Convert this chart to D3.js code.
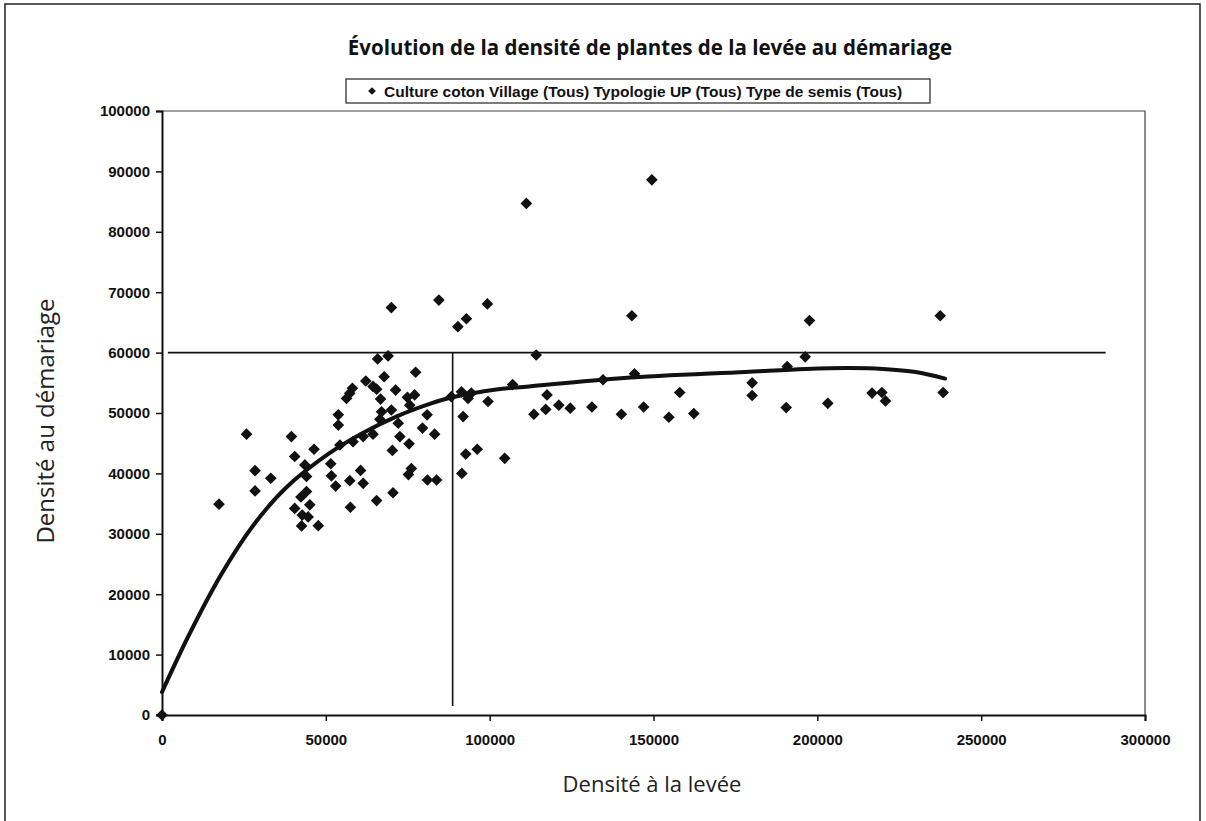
<!DOCTYPE html>
<html>
<head>
<meta charset="utf-8">
<script src="https://cdn.jsdelivr.net/npm/d3@7"></script>
<style>
  body { margin: 0; background: #fff; }
  .tick text { font-family: "Liberation Sans", Arial, sans-serif; font-weight: bold; font-size: 15px; fill: #111; }
</style>
</head>
<body>
<div class="canvas"></div>
<script>
// scatter values: density at emergence (x) / at thinning (y)
const levee = [
  0, 17400, 25800, 28400, 28400, 33200, 39500, 40500, 46400, 43600,
  44100, 44100, 42400, 40500, 45100, 42800, 44600, 42600, 47700, 53800,
  53800, 51500, 51700, 53000, 56300, 70000, 84500, 99300, 90300, 92900,
  65800, 69000, 77400, 62200, 67800, 58100, 57300, 64400, 65500, 71300,
  66700, 74900, 77100, 75600, 67000, 70000, 66500, 72100, 80900, 79500,
  83200, 72600, 75400, 70300, 64400, 61400, 58300, 54300, 91900, 91400,
  94400, 93400, 88300, 99500, 107000, 92700, 96200, 104600, 91500, 76100,
  75200, 60600, 61400, 57300, 57500, 65500, 70500, 81000, 83800, 114200,
  117500, 113500, 117100, 111200, 149500, 143400, 134600, 144200, 121100, 124600,
  131200, 140200, 147000, 154700, 158000, 162300, 197600, 237500, 196300, 190800,
  180100, 180100, 190500, 203200, 216700, 219700, 220800, 238400
];
const demariage = [
  0, 34900, 46500, 40450, 37100, 39200, 46100, 42800, 44000, 41400,
  39500, 37000, 36100, 34200, 34800, 33100, 32800, 31300, 31350, 49700,
  48000, 41600, 39600, 37900, 52400, 67450, 68700, 68060, 64300, 65600,
  58950, 59450, 56750, 55300, 56000, 54100, 53250, 54400, 53950, 53800,
  52300, 52600, 53000, 51300, 50200, 50500, 48950, 48300, 49700, 47500,
  46500, 46100, 44900, 43800, 46500, 46100, 45250, 44700, 49400, 53500,
  53300, 52400, 52700, 51900, 54700, 43200, 44000, 42500, 40000, 40800,
  39800, 40500, 38350, 38800, 34400, 35500, 36800, 38900, 38900, 59600,
  53000, 49800, 50600, 84700, 88600, 66100, 55500, 56500, 51300, 50800,
  51000, 49800, 51000, 49300, 53400, 49900, 65300, 66100, 59300, 57700,
  55000, 52900, 50900, 51600, 53300, 53400, 52000, 53400
];

// trend curve
const trendX = [0, 8000, 18000, 28000, 38000, 51000, 61000, 71500, 81700, 88600, 102000, 112000, 141000, 178000, 196500, 210000, 220000, 230000, 239000];
const trendY = [3800, 13000, 23200, 31500, 37700, 43300, 46600, 49400, 51500, 52600, 53900, 54400, 55800, 56800, 57300, 57450, 57300, 56800, 55700];

// reference lines (threshold at 60000 / 88700)
const hLine = [[1800, 60000], [288000, 60000]];
const vLine = [[88700, 60000], [88700, 1500]];

const xTicks = [0, 50000, 100000, 150000, 200000, 250000, 300000];
const yTicks = [0, 10000, 20000, 30000, 40000, 50000, 60000, 70000, 80000, 90000, 100000];

const titleText = "Évolution de la densité de plantes de la levée au démariage";
const legendText = "Culture coton Village (Tous) Typologie UP (Tous) Type de semis (Tous)";
const xTitle = "Densité à la levée";
const yTitle = "Densité au démariage";

// dimensions
const w = 1206;
const h = 821;
const margin = { top: 111, right: 61, bottom: 106, left: 162 };
const plotW = w - margin.left - margin.right;
const plotH = h - margin.top - margin.bottom;

const svg = d3.select(".canvas").append("svg").attr("width", w).attr("height", h)
  .style("font-family", "'Open Sans', sans-serif");

svg.append("rect").attr("width", w).attr("height", h).attr("fill", "#fff");

// outer frame of the figure
svg.append("rect")
  .attr("x", 5).attr("y", 4).attr("width", 1195).attr("height", 840)
  .attr("fill", "none").attr("stroke", "#222").attr("stroke-width", 1.5);

const x = d3.scaleLinear().domain([0, 300000]).range([0, plotW]);
const y = d3.scaleLinear().domain([0, 100000]).range([plotH, 0]);

const graph = svg.append("g").attr("transform", `translate(${margin.left}, ${margin.top})`);

// plot area border (top and right)
graph.append("path")
  .attr("d", `M0,0H${plotW}V${plotH}`)
  .attr("fill", "none").attr("stroke", "#444").attr("stroke-width", 1.2);

// axes
graph.append("g")
  .attr("transform", `translate(0, ${plotH})`)
  .call(d3.axisBottom(x).tickValues(xTicks).tickFormat(d3.format("d")).tickSize(6).tickPadding(13))
  .call((g) => g.select(".domain").attr("stroke", "#111").attr("stroke-width", 2))
  .call((g) => g.selectAll(".tick line").attr("stroke", "#111").attr("stroke-width", 1.5));

graph.append("g")
  .call(d3.axisLeft(y).tickValues(yTicks).tickFormat(d3.format("d")).tickSize(6).tickPadding(6))
  .call((g) => g.select(".domain").attr("stroke", "#111").attr("stroke-width", 2))
  .call((g) => g.selectAll(".tick line").attr("stroke", "#111").attr("stroke-width", 1.5));

// reference lines
const line = d3.line().x((d) => x(d[0])).y((d) => y(d[1]));
[hLine, vLine].forEach((l) => {
  graph.append("path").attr("d", line(l))
    .attr("fill", "none").attr("stroke", "#111").attr("stroke-width", 1.6);
});

// points
const diamond = d3.symbol(d3.symbolSquare, 68);
graph.selectAll(".pt")
  .data(levee.map((v, i) => [v, demariage[i]]))
  .enter()
  .append("path")
  .attr("class", "pt")
  .attr("d", diamond)
  .attr("transform", (d) => `translate(${x(d[0])}, ${y(d[1])}) rotate(45)`)
  .attr("fill", "#111");

// trend curve
const trendLine = d3.line().curve(d3.curveCatmullRom.alpha(0.5)).x((d) => x(d[0])).y((d) => y(d[1]));
graph.append("path")
  .attr("d", trendLine(trendX.map((v, i) => [v, trendY[i]])))
  .attr("fill", "none").attr("stroke", "#111").attr("stroke-width", 4).attr("stroke-linecap", "round");

// title
svg.append("text")
  .attr("x", 650).attr("y", 55)
  .attr("text-anchor", "middle")
  .attr("font-weight", "bold").attr("font-size", 20.5).attr("fill", "#111")
  .text(titleText);

// legend box
const legend = svg.append("g").attr("transform", "translate(346, 79)");
legend.append("rect").attr("width", 584).attr("height", 24)
  .attr("fill", "#fff").attr("stroke", "#222").attr("stroke-width", 1.2);
legend.append("path").attr("d", d3.symbol(d3.symbolSquare, 30))
  .attr("transform", "translate(26, 12) rotate(45)").attr("fill", "#111");
legend.append("text").attr("x", 38).attr("y", 17.5)
  .style("font-family", "'Liberation Sans', Arial, sans-serif")
  .attr("font-weight", "bold").attr("font-size", 15.5).attr("fill", "#111")
  .text(legendText);

// axis titles
svg.append("text")
  .attr("x", 652).attr("y", 792)
  .attr("text-anchor", "middle").attr("font-size", 22).attr("fill", "#222")
  .text(xTitle);

svg.append("text")
  .attr("transform", "translate(54, 421) rotate(-90)")
  .attr("text-anchor", "middle").attr("font-size", 24).attr("fill", "#222")
  .text(yTitle);
</script>
</body>
</html>
